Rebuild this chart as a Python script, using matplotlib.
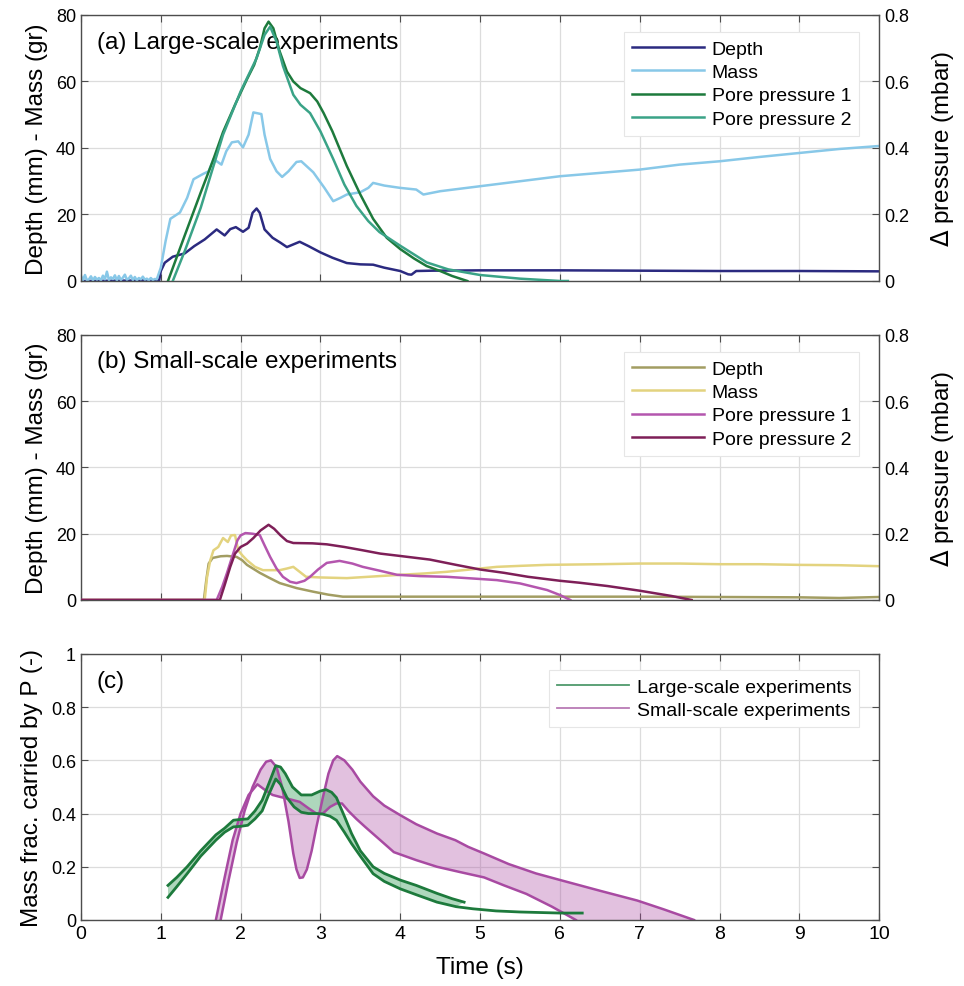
import numpy as np
import matplotlib
matplotlib.use("Agg")
import matplotlib.pyplot as plt
from matplotlib.lines import Line2D

plt.rcParams['font.family'] = ['Liberation Sans', 'DejaVu Sans']

# ---- panel (a) large-scale ----
a_depth_t = [0, 0.98, 1.0, 1.05, 1.15, 1.3, 1.42, 1.55, 1.7, 1.8, 1.87, 1.94, 2.03, 2.1, 2.15, 2.2, 2.24, 2.3,
             2.4, 2.5, 2.58, 2.66, 2.74, 2.85, 3.0, 3.15, 3.33, 3.5, 3.66, 3.8, 4.0, 4.1, 4.14, 4.2, 4.4,
             5, 6, 7, 8, 9, 10]
a_depth = [0, 0.2, 3, 5.5, 7.3, 8.3, 10.5, 12.5, 15.5, 13.7, 15.6, 16.2, 14.8, 16, 20.5, 21.8, 20.5, 15.5,
           13, 11.5, 10.2, 11, 11.8, 10.5, 8.6, 7, 5.4, 5, 4.9, 4, 3, 2, 1.9, 3, 3.1,
           3.2, 3.2, 3.1, 3.0, 3.0, 2.9]

a_mass_t = [0, 0.025, 0.05, 0.075, 0.1, 0.125, 0.15, 0.175, 0.2, 0.225, 0.25, 0.275, 0.3, 0.325, 0.35, 0.375,
            0.4, 0.425, 0.45, 0.475, 0.5, 0.525, 0.55, 0.575, 0.6, 0.625, 0.65, 0.675, 0.7, 0.725, 0.75, 0.775,
            0.8, 0.825, 0.85, 0.875, 0.9, 0.925, 0.95,
            1.0, 1.06, 1.12, 1.24, 1.33, 1.41, 1.53, 1.6, 1.66, 1.76, 1.82, 1.89, 1.97, 2.03, 2.1,
            2.16, 2.26, 2.3, 2.37, 2.45, 2.52, 2.6, 2.7, 2.76, 2.91, 3.05, 3.16, 3.25, 3.33, 3.5, 3.6, 3.66,
            3.8, 4.0, 4.2, 4.29, 4.5, 5, 5.5, 6, 6.5, 7, 7.5, 8, 8.5, 9, 9.5, 10]
a_mass = [1.5, 0.3, 1.8, 0.2, 0.5, 1.4, 0.2, 1.2, 0.4, 0.9, 0.2, 1.6, 0.5, 2.8, 0.3, 1.1, 0.6, 1.7, 0.2, 1.5,
          0.3, 1.0, 1.9, 0.4, 0.8, 1.6, 0.3, 1.2, 0.2, 0.9, 0.5, 1.3, 0.4, 0.7, 0.2, 0.9, 0.3, 0.6, 0.5,
          4, 12, 18.7, 20.6, 25, 30.6, 32.2, 33, 36.7, 35, 39, 41.7, 42, 40.2, 44,
          50.7, 50.2, 44, 36.7, 33, 31.3, 33, 35.8, 36, 32.7, 28, 24, 25, 26, 26.7, 28, 29.5,
          28.7, 28, 27.5, 26, 27, 28.5, 30, 31.5, 32.5, 33.5, 35, 36, 37.3, 38.5, 39.7, 40.6]

a_pp1_t = [1.09, 1.3, 1.5, 1.65, 1.78, 1.93, 2.08, 2.17, 2.24, 2.3, 2.35, 2.41, 2.49, 2.58, 2.66, 2.75, 2.87,
           2.96, 3.04, 3.15, 3.33, 3.5, 3.66, 3.83, 4.0, 4.17, 4.33, 4.5, 4.65, 4.84]
a_pp1 = [0, 0.137, 0.266, 0.36, 0.448, 0.53, 0.607, 0.65, 0.70, 0.76, 0.78, 0.76, 0.69, 0.63, 0.6, 0.58, 0.565,
         0.54, 0.505, 0.45, 0.346, 0.26, 0.187, 0.13, 0.096, 0.068, 0.045, 0.03, 0.015, 0.0]

a_pp2_t = [1.15, 1.3, 1.5, 1.78, 2.0, 2.1, 2.2, 2.3, 2.37, 2.45, 2.53, 2.6, 2.66, 2.75, 2.87, 3.0, 3.16, 3.3,
           3.45, 3.6, 3.74, 4.0, 4.33, 4.6, 5.0, 5.5, 6.0, 6.1]
a_pp2 = [0, 0.09, 0.22, 0.44, 0.57, 0.62, 0.67, 0.74, 0.765, 0.72, 0.647, 0.6, 0.56, 0.53, 0.505, 0.45, 0.367, 0.29,
         0.226, 0.18, 0.147, 0.106, 0.056, 0.035, 0.018, 0.007, 0.0, 0.0]

# ---- panel (b) small-scale ----
b_depth_t = [0, 1.54, 1.57, 1.6, 1.65, 1.75, 1.83, 1.95, 2.02, 2.08, 2.16, 2.24, 2.35, 2.49, 2.7, 2.91, 3.1,
             3.28, 4, 5, 6, 7, 8, 9, 9.5, 10]
b_depth = [0, 0, 6, 11, 12.7, 13.2, 13.3, 13, 12, 10.6, 9.4, 8.2, 6.8, 5.1, 3.6, 2.5, 1.6,
           1.0, 1, 1, 1, 1, 0.9, 0.8, 0.6, 0.9]

b_mass_t = [0, 1.55, 1.58, 1.62, 1.66, 1.72, 1.78, 1.84, 1.88, 1.93, 1.97, 2.02, 2.08, 2.18, 2.28, 2.4, 2.49,
            2.58, 2.66, 2.74, 2.82, 3.0, 3.33, 3.6, 4.0, 4.3, 4.58, 5.0, 5.21, 5.5, 5.83, 6.5, 7, 7.5, 8,
            8.5, 9, 9.5, 10]
b_mass = [0, 0, 7, 12, 15, 16, 18.7, 17.5, 19.5, 19.6, 15, 13.5, 12, 10, 9, 9, 9,
          9.5, 10, 8.5, 7, 6.8, 6.6, 7, 7.6, 8, 8.5, 9.5, 10, 10.3, 10.6, 10.8, 11, 11, 10.8,
          10.8, 10.6, 10.5, 10.2]

b_pp1_t = [0, 1.70, 1.77, 1.83, 1.9, 1.96, 2.0, 2.06, 2.15, 2.24, 2.3, 2.37, 2.45, 2.53, 2.62, 2.7, 2.8, 2.87,
           2.97, 3.08, 3.24, 3.4, 3.53, 3.75, 3.96, 4.25, 4.58, 4.9, 5.21, 5.5, 5.84, 6.0, 6.13]
b_pp1 = [0, 0, 0.04, 0.082, 0.135, 0.18, 0.195, 0.202, 0.2, 0.196, 0.165, 0.13, 0.095, 0.07, 0.055, 0.051,
         0.058, 0.07, 0.092, 0.112, 0.118, 0.11, 0.1, 0.088, 0.076, 0.072, 0.07, 0.065, 0.06, 0.05, 0.03,
         0.015, 0.0]

b_pp2_t = [0, 1.74, 1.8, 1.87, 1.93, 2.0, 2.08, 2.16, 2.25, 2.35, 2.42, 2.5, 2.58, 2.66, 2.9, 3.08, 3.3, 3.53,
           3.75, 3.96, 4.37, 4.7, 5.0, 5.3, 5.6, 6.0, 6.25, 6.6, 7.0, 7.4, 7.65]
b_pp2 = [0, 0, 0.045, 0.1, 0.14, 0.16, 0.17, 0.187, 0.21, 0.227, 0.215, 0.195, 0.178, 0.172, 0.171, 0.168,
         0.16, 0.15, 0.14, 0.134, 0.122, 0.106, 0.092, 0.082, 0.07, 0.058, 0.052, 0.042, 0.028, 0.012, 0.0]

# ---- panel (c) mass fraction carried by P ----
gu_t = [1.09, 1.2, 1.33, 1.5, 1.69, 1.8, 1.91, 2.0, 2.09, 2.18, 2.27, 2.35, 2.44, 2.5, 2.56, 2.65, 2.76, 2.89,
        3.0, 3.07, 3.14, 3.2, 3.3, 3.39, 3.5, 3.66, 3.8, 4.0, 4.2, 4.46, 4.65, 4.8]
gu = [0.13, 0.16, 0.2, 0.26, 0.32, 0.345, 0.375, 0.378, 0.38, 0.41, 0.45, 0.51, 0.58, 0.575, 0.55, 0.5, 0.47,
      0.47, 0.485, 0.49, 0.48, 0.46, 0.39, 0.325, 0.26, 0.2, 0.175, 0.15, 0.13, 0.1, 0.08, 0.067]
gl_t = [1.09, 1.2, 1.33, 1.5, 1.69, 1.8, 1.91, 2.0, 2.09, 2.18, 2.27, 2.35, 2.44, 2.5, 2.58, 2.67, 2.76, 2.85,
        2.95, 3.03, 3.12, 3.2, 3.3, 3.39, 3.5, 3.66, 3.8, 4.0, 4.2, 4.46, 4.7, 4.91, 5.2, 5.5, 6.0, 6.28]
gl = [0.085, 0.125, 0.174, 0.24, 0.3, 0.33, 0.35, 0.352, 0.356, 0.38, 0.41, 0.47, 0.53, 0.51, 0.46, 0.425,
      0.405, 0.4, 0.4, 0.398, 0.39, 0.375, 0.33, 0.287, 0.24, 0.174, 0.145, 0.117, 0.095, 0.067, 0.05, 0.042,
      0.034, 0.03, 0.026, 0.026]

ma_t = [1.75, 1.85, 1.95, 2.05, 2.15, 2.25, 2.32, 2.38, 2.45, 2.52, 2.6, 2.66, 2.7, 2.74, 2.78, 2.83, 2.89,
        2.95, 3.03, 3.1, 3.16, 3.21, 3.3, 3.4, 3.5, 3.66, 3.8, 4.0, 4.2, 4.46, 4.69, 4.85, 5.05, 5.36, 5.7,
        6.03, 6.5, 6.97, 7.3, 7.68]
ma = [0, 0.15, 0.29, 0.41, 0.5, 0.565, 0.595, 0.6, 0.575, 0.5, 0.37, 0.25, 0.19, 0.158, 0.16, 0.19, 0.26,
      0.35, 0.46, 0.55, 0.6, 0.616, 0.6, 0.565, 0.52, 0.465, 0.43, 0.394, 0.36, 0.325, 0.3, 0.275, 0.25,
      0.21, 0.175, 0.148, 0.11, 0.073, 0.04, 0.0]
mb_t = [1.69, 1.8, 1.9, 2.0, 2.1, 2.21, 2.3, 2.4, 2.49, 2.6, 2.74, 2.85, 2.95, 3.03, 3.12, 3.2, 3.27, 3.35,
        3.45, 3.56, 3.75, 3.92, 4.2, 4.46, 4.75, 5.05, 5.3, 5.58, 5.9, 6.2]
mb = [0, 0.16, 0.3, 0.4, 0.47, 0.51, 0.49, 0.47, 0.463, 0.455, 0.444, 0.42, 0.4, 0.4, 0.425, 0.438, 0.438,
      0.41, 0.38, 0.35, 0.3, 0.255, 0.225, 0.2, 0.18, 0.16, 0.13, 0.098, 0.05, 0.0]

fig = plt.figure(figsize=(9.64, 9.87), dpi=100)
grid_c = '#dcdcdc'
spine_c = '#4d4d4d'
tick_fs = 13
lab_fs = 17.5
panel_fs = 17.5


def style(ax, ylim, yticks):
    ax.set_xlim(0, 10)
    ax.set_ylim(*ylim)
    ax.set_xticks(range(0, 11))
    ax.set_yticks(yticks)
    ax.grid(True, color=grid_c, lw=0.9)
    ax.set_axisbelow(True)
    ax.tick_params(direction='in', length=5, color=spine_c, labelsize=tick_fs, top=True)
    for s in ax.spines.values():
        s.set_color(spine_c)
        s.set_linewidth(1.0)


def leg(ax, handles, labels, **kw):
    lg = ax.legend(handles, labels, loc='upper right', fontsize=14, handlelength=3.7,
                   frameon=True, fancybox=False, edgecolor='#e6e6e6', framealpha=1,
                   borderpad=0.4, labelspacing=0.3, handletextpad=0.4, **kw)
    lg.get_frame().set_linewidth(0.8)
    return lg


axes = []
for bot, h in [(0.7143, 0.2695), (0.3911, 0.2685), (0.0669, 0.2695)]:
    axes.append(fig.add_axes([0.084, bot, 0.828, h]))

# (a)
ax = axes[0]
style(ax, (0, 80), [0, 20, 40, 60, 80])
ax.set_xticklabels([])
ax2 = ax.twinx()
ax2.set_ylim(0, 0.8)
ax2.set_yticks([0, 0.2, 0.4, 0.6, 0.8])
ax2.set_yticklabels(['0', '0.2', '0.4', '0.6', '0.8'])
ax2.tick_params(direction='in', length=5, color=spine_c, labelsize=tick_fs)
for s in ax2.spines.values():
    s.set_visible(False)
l1, = ax.plot(a_depth_t, a_depth, color='#2b2a80', lw=1.8)
l2, = ax.plot(a_mass_t, a_mass, color='#88c8e8', lw=1.8)
l3, = ax2.plot(a_pp1_t, a_pp1, color='#1d7a3c', lw=1.8)
l4, = ax2.plot(a_pp2_t, a_pp2, color='#3aa387', lw=1.8)
ax.set_ylabel('Depth (mm) - Mass (gr)', fontsize=lab_fs, labelpad=6)
ax2.set_ylabel(r'$\Delta$ pressure (mbar)', fontsize=lab_fs, labelpad=14)
ax.text(0.02, 0.9, '(a) Large-scale experiments', transform=ax.transAxes, fontsize=panel_fs, va='center')
leg(ax2, [l1, l2, l3, l4], ['Depth', 'Mass', 'Pore pressure 1', 'Pore pressure 2'],
    bbox_to_anchor=(0.987, 0.972))

# (b)
ax = axes[1]
style(ax, (0, 80), [0, 20, 40, 60, 80])
ax.set_xticklabels([])
ax2 = ax.twinx()
ax2.set_ylim(0, 0.8)
ax2.set_yticks([0, 0.2, 0.4, 0.6, 0.8])
ax2.set_yticklabels(['0', '0.2', '0.4', '0.6', '0.8'])
ax2.tick_params(direction='in', length=5, color=spine_c, labelsize=tick_fs)
for s in ax2.spines.values():
    s.set_visible(False)
l1, = ax.plot(b_depth_t, b_depth, color='#a29d62', lw=1.8)
l2, = ax.plot(b_mass_t, b_mass, color='#e3d37f', lw=1.8)
l3, = ax2.plot(b_pp1_t, b_pp1, color='#b456ae', lw=1.8)
l4, = ax2.plot(b_pp2_t, b_pp2, color='#7e1f58', lw=1.8)
ax.set_ylabel('Depth (mm) - Mass (gr)', fontsize=lab_fs, labelpad=6)
ax2.set_ylabel(r'$\Delta$ pressure (mbar)', fontsize=lab_fs, labelpad=14)
ax.text(0.02, 0.9, '(b) Small-scale experiments', transform=ax.transAxes, fontsize=panel_fs, va='center')
leg(ax2, [l1, l2, l3, l4], ['Depth', 'Mass', 'Pore pressure 1', 'Pore pressure 2'],
    bbox_to_anchor=(0.987, 0.972))

# (c)
ax = axes[2]
style(ax, (0, 1), [0, 0.2, 0.4, 0.6, 0.8, 1])
ax.set_yticklabels(['0', '0.2', '0.4', '0.6', '0.8', '1'])
ax.tick_params(right=True)
ma_t_a, ma_a = np.array(ma_t), np.array(ma)
mb_t_a, mb_a = np.array(mb_t), np.array(mb)
ax.fill(np.concatenate([ma_t_a, mb_t_a[::-1]]), np.concatenate([ma_a, mb_a[::-1]]),
        color='#ac4ea4', alpha=0.35, lw=0)
gl_t_a, gl_a = np.array(gl_t), np.array(gl)
keep = gl_t_a <= gu_t[-1]
ax.fill(np.concatenate([gu_t, gl_t_a[keep][::-1]]), np.concatenate([gu, gl_a[keep][::-1]]),
        color='#098734', alpha=0.33, lw=0)
ax.plot(ma_t, ma, color='#a84aa2', lw=1.8)
ax.plot(mb_t, mb, color='#a84aa2', lw=1.8)
ax.plot(gu_t, gu, color='#1d7a3c', lw=2.0)
ax.plot(gl_t, gl, color='#1d7a3c', lw=2.0)
ax.text(0.02, 0.9, '(c)', transform=ax.transAxes, fontsize=panel_fs, va='center')
ax.set_ylabel('Mass frac. carried by P (-)', fontsize=lab_fs, labelpad=6)
ax.set_xlabel('Time (s)', fontsize=lab_fs, labelpad=10)
for t in ax.get_xticklabels():
    t.set_fontsize(14)
hl = [Line2D([], [], color='#4f9a6c', lw=1.3), Line2D([], [], color='#b97bb5', lw=1.3)]
leg(ax, hl, ['Large-scale experiments', 'Small-scale experiments'], bbox_to_anchor=(0.987, 0.975))

fig.savefig('out.png', dpi=100)
